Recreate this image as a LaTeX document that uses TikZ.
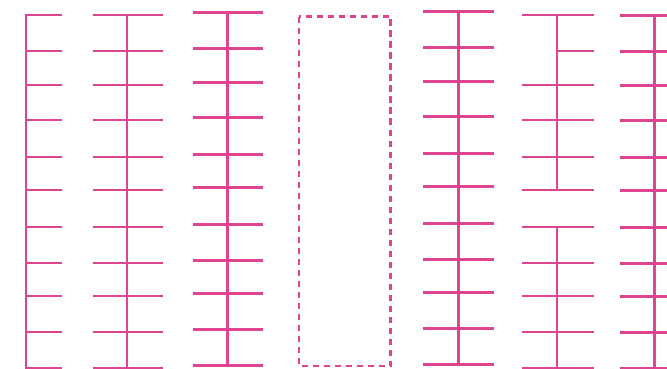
\documentclass[tikz,border=0pt]{standalone}
\usepackage{xcolor}
\usepackage{tikz}
\definecolor{ribpink}{RGB}{222,68,144}

\begin{document}
\begin{tikzpicture}[
    x=1pt, y=-1pt,
    spine/.style={draw=ribpink, line width=2.5pt, line cap=rect},
    rib/.style={draw=ribpink, line width=2.5pt},
    gapbox/.style={draw=ribpink, line width=2.5pt, dash pattern=on 6.5pt off 4.5pt}
]
    \clip (0,0) rectangle (667,369);

    % left ladder, ribs on one side
    \draw[spine] (26,15) -- (26,368);
    \foreach \y in {15,51,85,120,157,190,227,263,296,332,368}
        \draw[rib] (26,\y) -- (62,\y);

    % second ladder
    \draw[spine] (127,15) -- (127,368);
    \foreach \y in {15,51,85,120,157,190,227,263,296,332,368}
        \draw[rib] (92.7,\y) -- (163.3,\y);

    % third ladder, a bit higher
    \draw[spine] (227.3,12.7) -- (227.3,366);
    \foreach \y in {15,51,85,120,157,190,227,263,296,332,368}
        \draw[rib] (192.7,\y-2.3) -- (263.3,\y-2.3);

    % empty slot
    \draw[gapbox] (299,16.7) rectangle (390.7,366);

    % fifth ladder
    \draw[spine] (458.3,11.7) -- (458.3,365);
    \foreach \y in {15,51,85,120,157,190,227,263,296,332,368}
        \draw[rib] (423.3,\y-3.3) -- (494.3,\y-3.3);

    % broken ladder
    \draw[spine] (557,15) -- (557,190);
    \draw[spine] (557,227) -- (557,368);
    \draw[rib] (557,51) -- (593.7,51);
    \foreach \y in {15,85,120,157,190,227,263,296,332,368}
        \draw[rib] (522.3,\y) -- (593.7,\y);

    % last ladder, cut at the edge
    \draw[spine] (654.3,15.5) -- (654.3,368.5);
    \foreach \y in {15,51,85,120,157,190,227,263,296,332,368}
        \draw[rib] (620.3,\y+0.5) -- (688,\y+0.5);
\end{tikzpicture}
\end{document}
